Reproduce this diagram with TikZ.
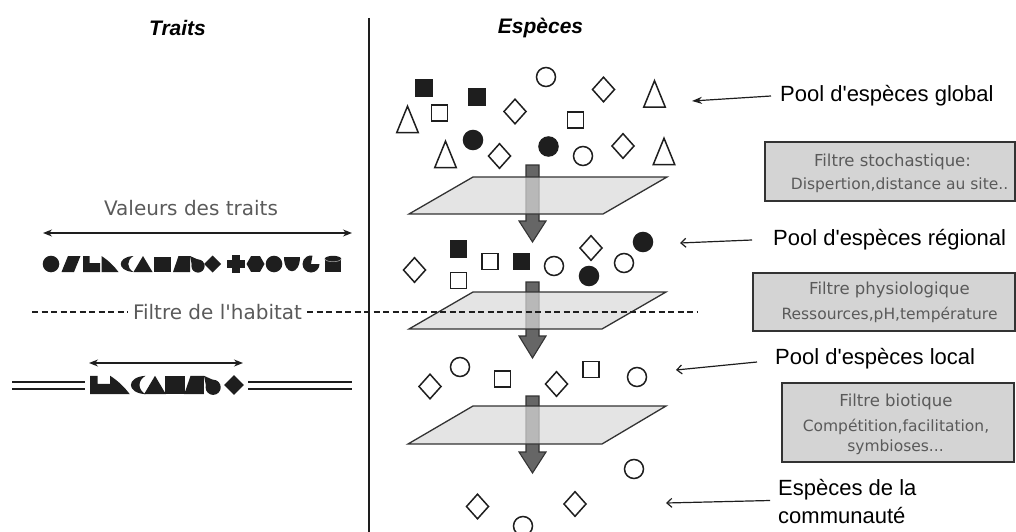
\documentclass[tikz,border=0pt]{standalone}
\usepackage{fontspec}
\newfontfamily\arial{Liberation Sans}
\newfontfamily\dejavu{DejaVu Sans}
\usetikzlibrary{arrows.meta}
\definecolor{ink}{HTML}{1E1E1E}
\definecolor{txtgray}{HTML}{5A5A5A}
\definecolor{boxfill}{HTML}{D4D4D4}
\definecolor{planefill}{HTML}{D9D9D9}
\definecolor{arrowfill}{HTML}{666666}
\definecolor{edge}{HTML}{333333}
\tikzset{
  open/.style={draw=ink, fill=white, line width=1.5pt},
  full/.style={draw=ink, fill=ink, line width=1.5pt},
  osq/.pic={\draw[open] (-8,-8) rectangle (8,8);},
  fsq/.pic={\draw[full] (-8,-8) rectangle (8,8);},
  oci/.pic={\draw[open] (0,0) circle (9.5);},
  fci/.pic={\draw[full] (0,0) circle (9.5);},
  odi/.pic={\draw[open] (0,-12.3) -- (11,0) -- (0,12.3) -- (-11,0) -- cycle;},
  otri/.pic={\draw[open] (0,-12.8) -- (10.8,13.7) -- (-10.8,13.7) -- cycle;},
  gcirc/.pic={\fill[ink] (0,0) circle (8.3);},
  gpar/.pic={\fill[ink] (-9.5,8) -- (-3,-8) -- (9.5,-8) -- (3,8) -- cycle;},
  gL/.pic={\fill[ink] (-8.5,-8) -- (-2,-8) -- (-2,-1) -- (8.5,-1) -- (8.5,8) -- (-8.5,8) -- cycle;},
  gtri/.pic={\fill[ink] (-8.5,-8) .. controls (-1,-3) and (4,2) .. (8.5,8) -- (-8.5,8) -- cycle;},
  gcres/.pic={\fill[ink] (7,-8) .. controls (-10,-7) and (-10,7) .. (7,8) .. controls (0,4) and (0,-4) .. (7,-8) -- cycle;},
  gA/.pic={\fill[ink] (-9.5,8) -- (0,-8) -- (9.5,8) -- cycle;},
  gsq/.pic={\fill[ink] (-8.3,-7.5) rectangle (8.3,8);},
  gslant/.pic={\fill[ink] (-8.5,8) -- (-3,-8) -- (8.5,-8) -- (8.5,8) -- cycle;},
  gdrop/.pic={\fill[ink] (1,2) circle (6.6); \fill[ink] (-7,-8) -- (-4.1,6.1) -- (6.2,-2.1) -- cycle;},
  gdia/.pic={\fill[ink] (0,-8.5) -- (8.5,0) -- (0,8.5) -- (-8.5,0) -- cycle;},
  gcross/.pic={\fill[ink] (-3.8,-9) rectangle (3.8,9); \fill[ink] (-9,-3.8) rectangle (9,3.8);},
  ghex/.pic={\fill[ink] (0:9) -- (60:9) -- (120:9) -- (180:9) -- (240:9) -- (300:9) -- cycle;},
  gbowl/.pic={\fill[ink] (-8,-7) -- (8,-7) .. controls (8,12) and (-8,12) .. cycle;},
  gG/.pic={\fill[ink] (0,0) -- (0:8.5) arc[start angle=0,end angle=280,radius=8.5] -- cycle;},
  gcyl/.pic={\fill[ink] (-8.3,-5) rectangle (8.3,8.3); \fill[ink] (0,-5) ellipse (8.3 and 3.2);
     \draw[white!60!ink, line width=0.6pt] (-8,-4.7) .. controls (-6,-1.5) and (6,-1.5) .. (8,-4.7);},
  plane/.style={draw=edge, fill=planefill, fill opacity=0.72, line width=1.3pt, line join=miter},
  bigarrow/.style={draw=edge, fill=arrowfill, line width=1.1pt},
  fbox/.style={rectangle, draw=edge, fill=boxfill, line width=1.3pt, inner sep=0pt},
  boxa/.style={text=txtgray, font=\dejavu\fontsize{16.5}{19}\selectfont, inner sep=0pt},
  boxb/.style={text=txtgray, font=\dejavu\fontsize{15.5}{18}\selectfont, inner sep=0pt},
  lab/.style={font=\arial\fontsize{22}{28}\selectfont, inner sep=0pt, anchor=west, text=black, align=left},
  title/.style={font=\arial\bfseries\itshape\fontsize{21}{25}\selectfont, inner sep=0pt},
  grayt/.style={text=txtgray, font=\dejavu\fontsize{20}{24}\selectfont, inner sep=0pt},
  lblarrow/.style={draw=ink, line width=1.2pt},
  dbl/.style={draw=ink, line width=1.3pt, {Stealth[length=9pt,width=7pt]}-{Stealth[length=9pt,width=7pt]}},
}
\begin{document}
\begin{tikzpicture}[x=1pt,y=-1pt]
\useasboundingbox (0,0) rectangle (1016,532);

% titles and separator
\node[title] (traits) at (177.5,28) {Traits};
\node[title] (especes) at (540.5,28) {Espèces};
\draw[draw=ink, line width=1.3pt] (369,18) -- (369,532);

% big arrows (drawn beneath the planes)
\draw[bigarrow] (526,165) -- (539,165) -- (539,221) -- (546,221) -- (532.5,242) -- (519,221) -- (526,221) -- cycle;
\draw[bigarrow] (526,282) -- (539,282) -- (539,336) -- (546,336) -- (532.5,358) -- (519,336) -- (526,336) -- cycle;
\draw[bigarrow] (526,396) -- (539,396) -- (539,452) -- (546,452) -- (532.5,473) -- (519,452) -- (526,452) -- cycle;

% planes
\draw[plane] (473,177) -- (667,177) -- (603,214) -- (409,214) -- cycle;
\draw[plane] (473,292) -- (666,292) -- (602,329) -- (409,329) -- cycle;
\draw[plane] (473,406) -- (666,406) -- (602,444) -- (408,444) -- cycle;

% global pool
\pic at (424,88) {fsq};
\pic at (477,97) {fsq};
\pic at (439.5,113) {osq};
\pic at (407.5,119) {otri};
\pic at (515,111.5) {odi};
\pic at (546,77) {oci};
\pic at (603.5,89.5) {odi};
\pic at (654.5,93.5) {otri};
\pic at (575.5,120) {osq};
\pic at (473,140) {fci};
\pic at (445.5,154) {otri};
\pic at (499.5,156) {odi};
\pic at (548.5,146.5) {fci};
\pic at (583,156) {oci};
\pic at (623,146) {odi};
\pic at (664,151) {otri};

% regional pool
\pic at (414.5,270) {odi};
\pic at (458.5,249) {fsq};
\pic at (458.5,280.5) {osq};
\pic at (490,261.5) {osq};
\pic at (521.5,261.5) {fsq};
\pic at (554,266) {oci};
\pic at (591,248) {odi};
\pic at (589,276) {fci};
\pic at (624,263) {oci};
\pic at (643,242) {fci};

% local pool
\pic at (430,386.5) {odi};
\pic at (460,367) {oci};
\pic at (502.5,379) {osq};
\pic at (556.5,384) {odi};
\pic at (591,369.5) {osq};
\pic at (637,377) {oci};

% community
\pic at (634,469) {oci};
\pic at (477.5,506.5) {odi};
\pic at (575,504) {odi};
\pic at (523,526) {oci};

% filter boxes
\node[fbox, minimum width=250pt, minimum height=59pt] (box1) at (890,171.5) {};
\node[boxa] (b1a) at (892.5,162) {Filtre stochastique:};
\node[boxb] (b1b) at (899.5,185) {Dispertion,distance au site..};
\node[fbox, minimum width=262pt, minimum height=58pt] (box2) at (884,302) {};
\node[boxa] (b2a) at (889.5,290) {Filtre physiologique};
\node[boxb] (b2b) at (889.5,315) {Ressources,pH,température};
\node[fbox, minimum width=232pt, minimum height=79pt] (box3) at (898,422.5) {};
\node[boxa] (b3a) at (896,402) {Filtre biotique};
\node[boxb] (b3b) at (896,427) {Compétition,facilitation,};
\node[boxb] (b3c) at (895.5,447) {symbioses...};

% labels with arrows
\node[lab] (pg) at (780,96) {Pool d'espèces global};
\node[lab] (pr) at (773,240) {Pool d'espèces régional};
\node[lab] (pl) at (775,359) {Pool d'espèces local};
\node[lab] (pc) at (778,502) {Espèces de la\\communauté};
\coordinate (tg) at (692,101);
\coordinate (tr) at (680,243);
\coordinate (tl) at (676,370);
\coordinate (tc) at (666,503);
\draw[lblarrow, -{Stealth[length=10pt,width=7pt]}] ([xshift=-9pt]pg.west) -- (tg);
\draw[lblarrow, -{Straight Barb[length=5pt,width=9pt]}] ([xshift=-21pt]pr.west) -- (tr);
\draw[lblarrow, -{Straight Barb[length=5pt,width=9pt]}] ([xshift=-18pt,yshift=-3pt]pl.west) -- (tl);
\draw[lblarrow, -{Straight Barb[length=5pt,width=9pt]}] ([xshift=-8pt,yshift=1.5pt]pc.west) -- (tc);

% left side: trait values
\node[grayt] (vt) at (191,208) {Valeurs des traits};
\coordinate (a1l) at (43,233);
\coordinate (a1r) at (352,233);
\draw[dbl] (a1l) -- (a1r);
\pic at (51,264) {gcirc};
\pic at (71,264) {gpar};
\pic at (91.5,264) {gL};
\pic at (110,264) {gtri};
\pic at (126.5,264) {gcres};
\pic at (143,264) {gA};
\pic at (162.5,264) {gsq};
\pic at (181.5,264) {gslant};
\pic at (197,264) {gdrop};
\pic at (212.5,264) {gdia};
\pic at (236,264) {gcross};
\pic at (255.5,264) {ghex};
\pic at (274,264) {gcirc};
\pic at (291.5,264) {gbowl};
\pic at (311,264) {gG};
\pic at (333,264) {gcyl};

% habitat filter
\node[grayt] (fh) at (217.5,312) {Filtre de l'habitat};
\coordinate (dl) at (32,312);
\coordinate (dr) at (697,312);
\draw[draw=ink, line width=1.2pt, dash pattern=on 6pt off 3.5pt] (dl) -- ([xshift=-5pt]fh.west);
\draw[draw=ink, line width=1.2pt, dash pattern=on 6pt off 3.5pt] ([xshift=5pt]fh.east) -- (dr);

% filtered trait values
\coordinate (a2l) at (89,363);
\coordinate (a2r) at (243,363);
\draw[dbl] (a2l) -- (a2r);
\pic[scale=1.15] at (100,385) {gL};
\pic[scale=1.15] at (120,385) {gtri};
\pic[scale=1.15] at (137.5,385) {gcres};
\pic[scale=1.15] at (155,385) {gA};
\pic[scale=1.15] at (175,385) {gsq};
\pic[scale=1.15] at (194,385) {gslant};
\pic[scale=1.15] at (212,385) {gdrop};
\pic[scale=1.15] at (234,385) {gdia};
\coordinate (l1a) at (12,382);
\coordinate (l1b) at (85,382);
\coordinate (l2a) at (12,389);
\coordinate (l2b) at (85,389);
\coordinate (r1a) at (248,382);
\coordinate (r1b) at (352,382);
\coordinate (r2a) at (248,389);
\coordinate (r2b) at (352,389);
\draw[draw=ink, line width=1.3pt] (l1a) -- (l1b) (l2a) -- (l2b) (r1a) -- (r1b) (r2a) -- (r2b);
\end{tikzpicture}
\end{document}
